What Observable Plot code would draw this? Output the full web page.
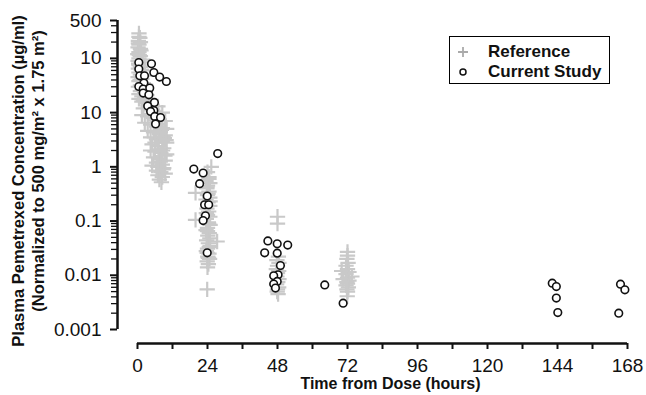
<!DOCTYPE html>
<html><head><meta charset="utf-8">
<script src="https://cdn.jsdelivr.net/npm/d3@7"></script>
<script src="https://cdn.jsdelivr.net/npm/@observablehq/plot@0.6"></script>
<style>
body{margin:0;background:#fff;font-family:"Liberation Sans",Arial,sans-serif}
#wrap{position:relative;width:646px;height:395px}
#legend{position:absolute;left:449px;top:36px;width:159px;height:46px;border:1.5px solid #000;background:#fff;font-weight:bold;font-size:17px;color:#111}
#legend .row{position:absolute;left:0;height:20px;line-height:20px;white-space:nowrap}
#legend svg{position:absolute;left:6px;top:5px}
#legend span{position:absolute;left:38px;top:0}
</style></head><body><div id="wrap"></div>
<script>
// Reference (historical) data: time (h), concentration (µg/ml)
const refT = [0.5,0.5,0.3,1.0,0.5,0.2,1.0,0.5,0.1,1.0,0.5,0.2,1.2,0.5,1.0,0.3,1.5,0.5,1.0,0.2,1.5,0.5,2.0,1.0,0.3,2.0,1.0,2.5,0.5,1.5,
  0.5,2.0,1.5,3.0,5.0,7.0,2.0,4.0,6.0,8.5,1.5,3.5,5.5,7.5,9.5,2.5,4.5,6.5,8.5,10.0,3.5,5.5,7.5,9.5,4.5,6.5,8.5,10.0,5.0,7.0,9.0,4.5,6.0,8.0,10.0,5.5,7.5,9.5,6.5,8.5,5.0,7.0,9.0,6.5,8.0,9.5,7.0,8.5,7.5,8.2,
  0.8,0.3,1.2,0.6,1.8,0.4,1.3,2.2,0.9,2.8,1.6,3.2,2.4,4.2,3.6,5.2,4.8,6.2,5.8,7.2,6.8,8.2,7.8,9.2,8.8,9.8,6.0,7.2,8.6,9.4,7.8,8.8,
  25.3,24.0,24.5,23.5,24.8,24.0,19.9,23.8,24.5,24.0,24.8,23.5,24.2,24.8,23.8,24.4,24.0,24.8,19.9,23.6,24.3,24.9,24.0,23.5,24.6,24.1,24.8,23.7,27.3,24.3,24.9,24.0,23.6,24.5,24.1,24.7,23.9,24.3,24.0,23.9,
  24.5,23.8,24.2,24.9,23.6,24.4,24.0,24.6,23.9,24.3,
  48.0,48.0,48.3,47.8,48.5,48.0,47.6,48.4,48.0,47.8,48.5,48.1,47.7,48.4,48.0,47.9,48.2,
  72.0,72.0,71.8,72.2,71.5,72.0,70.0,72.5,71.5,73.5,72.0,70.5,72.5,71.8,72.0,71.5,72.3,71.8,72.0,71.9];
const refV = [290,250,210,200,180,160,150,130,120,110,100,90,85,75,70,65,60,55,50,45,42,38,35,32,30,28,25,23,22,20,
  18,17,16,15,14,13,12,11,10.5,10,9,8.5,8,7.5,7,6.5,6,5.5,5.2,5,4.6,4.3,4,3.8,3.5,3.2,3,2.8,2.6,2.4,2.2,2,1.9,1.8,1.7,1.5,1.4,1.3,1.2,1.1,1.05,1.0,0.95,0.85,0.8,0.75,0.7,0.65,0.58,0.52,
  240,190,140,115,95,80,62,48,40,33,26,21,19,16.5,13.5,11.5,9.5,8.8,7.2,6.2,5.6,4.8,4.4,3.4,3.6,3.1,2.8,2.1,2.0,1.6,1.25,0.9,
  1.0,0.8,0.65,0.55,0.5,0.45,0.33,0.4,0.35,0.3,0.27,0.25,0.22,0.19,0.17,0.15,0.13,0.12,0.105,0.11,0.095,0.085,0.075,0.068,0.06,0.054,0.048,0.044,0.042,0.039,0.035,0.031,0.028,0.025,0.022,0.02,0.018,0.016,0.014,0.0055,
  0.6,0.42,0.32,0.23,0.14,0.09,0.065,0.033,0.026,0.021,
  0.12,0.09,0.022,0.019,0.017,0.015,0.013,0.012,0.011,0.0095,0.0085,0.0075,0.0068,0.006,0.0055,0.005,0.0045,
  0.027,0.023,0.02,0.017,0.015,0.013,0.012,0.0115,0.0105,0.0095,0.009,0.0085,0.008,0.0075,0.007,0.0065,0.006,0.0055,0.005,0.0041];
// Current study data
const curT = [0.45,4.8,0.45,5.6,7.6,9.9,0.8,2.4,2.2,0.45,1.95,4.2,1.95,3.9,5.8,3.5,5.6,4.5,5.9,7.9,6.2,
  27.5,19.3,22.5,21.3,23.9,23.0,24.4,23.3,22.5,23.9,
  44.7,47.9,51.5,43.6,47.9,49.0,48.2,46.7,47.9,46.7,47.3,
  64.2,70.5,
  142.2,143.6,143.6,144.1,
  165.6,167.1,165.0];
const curV = [84,79.5,63.5,55,45.2,37.5,47.8,47.8,35,30.3,27.2,28.3,22.9,21.3,15.4,13.3,10.9,10.5,8.5,8.1,6.2,
  1.76,0.91,0.77,0.49,0.29,0.2,0.2,0.125,0.102,0.026,
  0.043,0.038,0.036,0.026,0.0256,0.0151,0.0102,0.0098,0.0077,0.0069,0.0058,
  0.00665,0.00306,
  0.00715,0.0062,0.0038,0.00205,
  0.00685,0.0054,0.002];

const xTicks = [0,24,48,72,96,120,144,168];
const xMinor = [12,36,60,84,108,132,156];
const yTicks = [0.001,0.01,0.1,1,10,100,500];
const yTickLabels = ["0.001","0.01","0.1","1","10","10","500"];
const yMinor = [0.002,0.003,0.004,0.005,0.006,0.007,0.008,0.009,0.02,0.03,0.04,0.05,0.06,0.07,0.08,0.09,
  0.2,0.3,0.4,0.5,0.6,0.7,0.8,0.9,2,3,4,5,6,7,8,9,20,30,40,50,60,70,80,90,200,300,400];
const xTitle = "Time from Dose (hours)";
const yTitle1 = "Plasma Pemetrexed Concentration (µg/ml)";
const yTitle2 = "(Normalized to 500 mg/m² x 1.75 m²)";
const legendLabels = ["Reference","Current Study"];

const ref = refT.map((t,i)=>({t, v: refV[i]}));
const cur = curT.map((t,i)=>({t, v: curV[i]}));
const yLab = yTicks.map((v,i)=>({v, label: yTickLabels[i]}));
const xDom = [xTicks[0], xTicks[xTicks.length-1]];
const yDom = [yTicks[0], yTicks[yTicks.length-1]];

const chart = Plot.plot({
  width: 646, height: 395,
  marginLeft: 117, marginRight: 19, marginTop: 20, marginBottom: 52,
  x: {domain: xDom, insetLeft: 20, label: null},
  y: {type: "log", domain: yDom, insetBottom: 14, label: null},
  style: {fontFamily: "'Liberation Sans', Arial, sans-serif", background: "white", color: "#111", overflow: "visible"},
  marks: [
    Plot.dot(ref, {x: "t", y: "v", symbol: "plus", r: 5, stroke: "#c9c9c9", strokeWidth: 2.2}),
    Plot.dot(cur, {x: "t", y: "v", r: 3.8, fill: "white", stroke: "#111", strokeWidth: 1.6}),
    Plot.ruleX([xDom[0]], {y1: yDom[0], y2: yDom[1], dx: -20, stroke: "#111", strokeWidth: 2.5}),
    Plot.ruleY([yDom[0]], {x1: xDom[0], x2: xDom[1], dy: 14, stroke: "#111", strokeWidth: 2.5}),
    Plot.axisY(yMinor, {tickSize: 6, tickFormat: () => "", strokeWidth: 1.3, stroke: "#111"}),
    Plot.axisY(yTicks, {tickSize: 7, tickFormat: () => "", strokeWidth: 2, stroke: "#111"}),
    Plot.text(yLab, {y: "v", text: "label", frameAnchor: "left", textAnchor: "end", lineAnchor: "middle", dx: -16, fontSize: 19, fill: "#111"}),
    Plot.axisX(xMinor, {tickSize: 6, tickFormat: () => "", strokeWidth: 2, stroke: "#111"}),
    Plot.axisX(xTicks, {tickSize: 6, tickPadding: 9, fontSize: 19, strokeWidth: 2, stroke: "#111", fill: "#111"}),
    Plot.text([xTitle], {frameAnchor: "bottom", textAnchor: "middle", lineAnchor: "middle", dx: 18, dy: 40, fontSize: 16, fontWeight: "bold", fill: "#111"}),
    Plot.text([yTitle1], {frameAnchor: "left", textAnchor: "middle", lineAnchor: "middle", rotate: -90, dx: -99, dy: -1, fontSize: 16.5, fontWeight: "bold", fill: "#111"}),
    Plot.text([yTitle2], {frameAnchor: "left", textAnchor: "middle", lineAnchor: "middle", rotate: -90, dx: -79, dy: -11, fontSize: 16.5, fontWeight: "bold", fill: "#111"})
  ]
});
const wrap = document.getElementById("wrap");
wrap.appendChild(chart);

const leg = document.createElement("div");
leg.id = "legend";
leg.innerHTML = `
<div class="row" style="top:5px;width:100%"><svg width="14" height="12" viewBox="-7 -6 14 12" style="top:4px;left:6px"><path d="M-5,0H5M0,-5V5" stroke="#aaa" stroke-width="1.8"/></svg><span>${legendLabels[0]}</span></div>
<div class="row" style="top:25px;width:100%"><svg width="14" height="12" viewBox="-7 -6 14 12" style="top:4px;left:6px"><circle r="3" fill="white" stroke="#111" stroke-width="1.5"/></svg><span>${legendLabels[1]}</span></div>`;
wrap.appendChild(leg);
</script></body></html>
